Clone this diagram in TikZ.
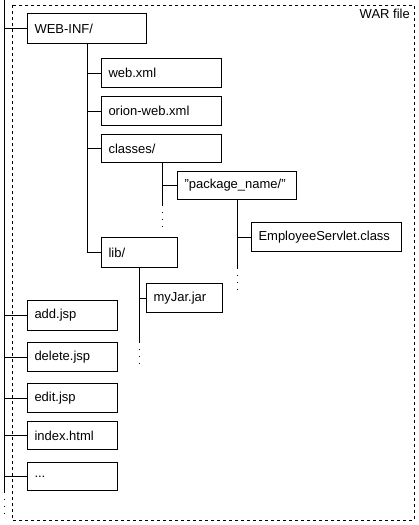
\documentclass[tikz,border=0pt]{standalone}
\usepackage{fontspec}
\setmainfont{Liberation Sans}
\begin{document}
\begin{tikzpicture}[x=1pt,y=-1pt,
  fbox/.style={draw, line width=1pt, inner xsep=7pt, inner ysep=0pt, anchor=north west,
    minimum height=29pt, align=left, font=\fontsize{13pt}{15pt}\selectfont},
  conn/.style={line width=1pt},
  more/.style={line width=1pt, dash pattern=on 1pt off 6pt},
  frame/.style={line width=1pt, dash pattern=on 3pt off 3pt}]
\useasboundingbox (0,0) rectangle (419,525);
\draw[frame] (12,5) rectangle (414,520);
\node[anchor=base east, inner sep=0pt, font=\fontsize{13pt}{15pt}\selectfont] (war) at (410,18) {WAR file};

% trunk
\coordinate (trunkT) at (4,0);
\coordinate (trunkB) at (4,492);
\coordinate (trunkE) at (4,515);
\draw[conn] (trunkT) -- (trunkB);
\draw[more] (trunkB) -- (trunkE);

\node[fbox, text width=105pt, minimum height=30pt] (webinf) at (27,13) {WEB-INF/};
\node[fbox, text width=106pt] (web) at (101,58) {web.xml};
\node[fbox, text width=106pt] (orion) at (101,96) {orion-web.xml};
\node[fbox, text width=106pt, minimum height=28pt] (classes) at (101,134) {classes/};
\node[fbox, text width=105pt, minimum height=28pt] (pkg) at (177,171) {"package\_name/"};
\node[fbox, text width=136pt] (emp) at (251,222) {EmployeeServlet.class};
\node[fbox, text width=62pt, minimum height=30pt] (lib) at (101,237) {lib/};
\node[fbox, text width=62pt] (myjar) at (146,283) {myJar.jar};
\node[fbox, text width=76pt, minimum height=30pt] (add) at (27,300) {add.jsp};
\node[fbox, text width=76pt] (delete) at (27,342) {delete.jsp};
\node[fbox, text width=76pt] (edit) at (27,383) {edit.jsp};
\node[fbox, text width=76pt, minimum height=28pt] (index) at (27,421) {index.html};
\node[fbox, text width=76pt, minimum height=28pt] (dots) at (27,462) {...};

% trunk connectors
\foreach \n in {webinf,add,delete,edit,index,dots}
  \draw[conn] (trunkT |- \n.west) -- (\n.west);

% WEB-INF subtree
\coordinate (wiT) at (87,43);
\draw[conn] (wiT) -- (wiT |- lib.west);
\foreach \n in {web,orion,classes,lib}
  \draw[conn] (wiT |- \n.west) -- (\n.west);

% classes subtree
\coordinate (clT) at (162,162);
\coordinate (clB) at (162,205);
\coordinate (clE) at (162,230);
\draw[conn] (clT) -- (clB);
\draw[more] (clB) -- (clE);
\draw[conn] (clT |- pkg.west) -- (pkg.west);

% package subtree
\coordinate (pkT) at (237,199);
\coordinate (pkB) at (237,268);
\coordinate (pkE) at (237,290);
\draw[conn] (pkT) -- (pkB);
\draw[more] (pkB) -- (pkE);
\draw[conn] (pkT |- emp.west) -- (emp.west);

% lib subtree
\coordinate (lbT) at (139,267);
\coordinate (lbB) at (139,342);
\coordinate (lbE) at (139,365);
\draw[conn] (lbT) -- (lbB);
\draw[more] (lbB) -- (lbE);
\draw[conn] (lbT |- myjar.west) -- (myjar.west);
\end{tikzpicture}
\end{document}
